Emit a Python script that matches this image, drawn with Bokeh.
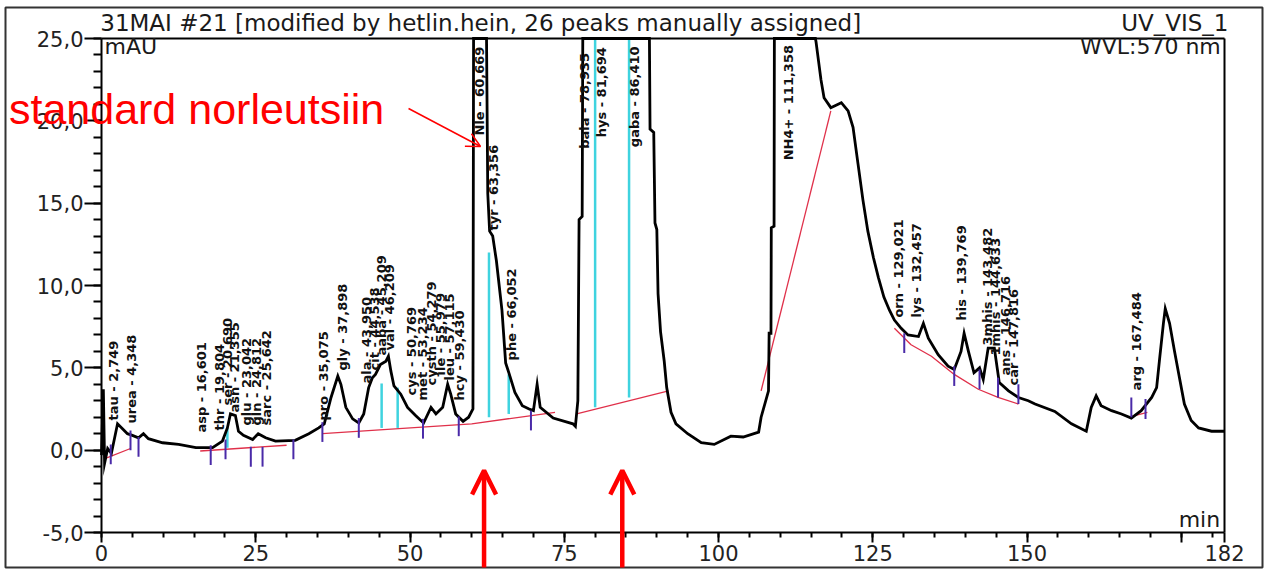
import math
from bokeh.plotting import figure
from bokeh.models import (Range1d, FixedTicker, CustomJSTickFormatter, Label, Arrow,
                          OpenHead, ColumnDataSource, LinearAxis)
from bokeh.embed import file_html
from bokeh.resources import INLINE
from bokeh.core.properties import value

# ---------------- data ----------------
# the detector signal leaves the 25 mAU scale on the big peaks; those points are
# recorded at the top of the scale (25.0) where the trace is clipped in the picture
time_min = [0.0, 0.3, 0.5, 1.0, 1.6, 2.6, 3.4, 4.2, 5.0, 6.0, 6.8, 7.6, 9.9, 12.5, 15.3,
            18.0, 19.6, 20.4, 20.9, 21.7, 22.2, 23.0, 24.5, 25.4, 26.6, 28.2, 31.4, 33.6,
            35.2, 36.1, 37.2, 38.3, 38.8, 39.6, 40.7, 41.7, 42.5, 43.3, 43.9, 44.4, 45.2,
            46.1, 46.5, 46.9, 47.4, 48.5, 49.6, 50.9, 52.2, 53.4, 54.2, 55.3, 56.1, 56.6,
            57.4, 58.6, 59.5, 60.2, 60.3, 62.4, 62.6, 62.9, 63.4, 64.0, 64.9, 65.5, 66.1,
            67.0, 68.2, 69.3, 70.0, 70.6, 71.1, 73.2, 76.4, 76.8, 77.2, 77.4, 77.9, 78.0,
            88.8, 88.9, 89.5, 89.7, 90.0, 90.2, 90.6, 91.2, 91.6, 92.3, 93.1, 95.0, 97.2,
            99.3, 102.0, 104.0, 106.5, 106.9, 108.1, 108.2, 108.5, 108.55, 109.0, 109.05,
            115.7, 115.8, 116.6, 117.1, 118.2, 119.9, 121.0, 121.8, 122.6, 123.4, 124.2,
            125.1, 125.9, 126.8, 127.7, 128.5, 129.6, 130.7, 132.4, 133.2, 134.0, 135.6,
            137.2, 138.2, 139.3, 139.8, 140.5, 141.4, 142.3, 142.9, 143.7, 144.7, 145.5,
            147.0, 148.6, 150.2, 151.3, 154.5, 157.2, 159.6, 160.4, 161.2, 162.0, 163.7,
            165.3, 166.9, 168.5, 170.2, 171.0, 171.5, 172.1, 172.4, 173.1, 173.9, 174.7,
            175.5, 176.6, 177.8, 179.9, 182.0]
signal_mau = [-0.3, 3.7, -0.8, 0.1, -0.2, 1.6, 1.3, 1.0, 0.9, 0.75, 1.0, 0.7, 0.45, 0.35, 0.15,
              0.15, 0.55, 1.35, 2.2, 2.1, 1.15, 0.9, 0.65, 1.0, 0.75, 0.55, 0.6, 1.0,
              1.35, 1.6, 3.2, 4.5, 4.0, 2.6, 1.9, 1.65, 2.2, 3.8, 4.4, 4.6, 5.2,
              5.4, 5.7, 4.8, 3.9, 3.4, 2.6, 2.1, 1.65, 2.6, 2.2, 2.6, 4.0, 3.4,
              2.2, 1.75, 2.0, 2.5, 25.0, 25.0, 15.6, 13.3, 13.0, 11.5, 8.5, 5.3, 4.6,
              3.5, 2.7, 2.5, 2.4, 4.0, 2.6, 1.95, 1.6, 1.45, 3.0, 14.0, 14.2, 25.0,
              25.0, 19.5, 19.3, 13.8, 13.4, 9.5, 7.2, 5.4, 3.8, 2.3, 1.6, 1.0, 0.45,
              0.35, 0.85, 0.8, 1.1, 2.0, 3.6, 7.1, 7.1, 13.5, 13.6, 25.0,
              25.0, 24.8, 22.5, 21.4, 20.8, 21.1, 20.6, 19.6, 17.4, 15.2, 13.3,
              11.7, 10.5, 9.3, 8.5, 7.9, 7.4, 7.0, 6.9, 7.7, 6.8, 5.8,
              5.1, 4.9, 6.0, 7.1, 6.0, 4.7, 5.0, 4.3, 6.2, 6.2, 4.1,
              3.6, 3.2, 3.0, 2.8, 2.35, 1.6, 1.15, 2.6, 3.3, 2.7, 2.4,
              2.2, 1.95, 2.4, 3.2, 3.8, 5.6, 7.7, 8.6, 7.7, 6.0, 4.4,
              2.8, 1.8, 1.35, 1.15, 1.15]

# integration baselines (red)
baseline_t = [[0.65, 4.7], [16.0, 30.0], [35.8, 60.0, 73.5], [77.0, 91.9],
              [106.9, 118.2],
              [128.5, 131.2, 134.5, 138.2, 142.1, 145.3, 148.6], [166.5, 169.5]]
baseline_v = [[-0.5, 0.1], [-0.05, 0.3], [1.0, 1.6, 2.3], [2.2, 3.6],
              [3.6, 20.6],
              [7.4, 6.4, 5.7, 4.6, 3.7, 3.2, 2.8], [2.0, 2.3]]

# peak drop lines (cyan)
drop_t = [20.4, 45.4, 48.0, 62.8, 66.0, 80.0, 85.5]
drop_lo = [0.15, 1.35, 1.35, 2.0, 2.2, 2.6, 3.2]
drop_hi = [1.35, 4.05, 3.8, 12.0, 4.6, 25.0, 25.0]

# peak delimiters (purple ticks)
delim_t = [1.5, 4.7, 6.0, 17.7, 20.1, 24.2, 26.1, 31.1, 35.8, 41.7, 52.1, 57.9, 69.6,
           130.1, 138.2, 142.3, 145.3, 148.6, 166.9, 169.2]
delim_v = [-0.15, 0.7, 0.3, -0.2, 0.15, -0.3, -0.3, 0.15, 1.2, 1.45, 1.4, 1.55, 1.9,
           6.6, 4.6, 4.4, 3.9, 3.5, 2.7, 2.6]

# peak labels
peak_names = ["tau - 2,749", "urea - 4,348", "asp - 16,601", "thr - 19,804", "ser - 20,690",
              "asn - 21,355", "glu - 23,042", "gln - 24,812", "sarc - 25,642",
              "pro - 35,075", "gly - 37,898", "ala - 43,950", "cit - 44,538",
              "aaba - 45,209", "val - 46,209", "cys - 50,769", "met - 53,234",
              "cysth - 54,279", "ile - 55,979", "leu - 57,115", "hcy - 59,430",
              "Nle - 60,669", "tyr - 63,356", "phe - 66,052", "bala - 78,935",
              "hys - 81,694", "gaba - 86,410", "NH4+ - 111,358", "orn - 129,021",
              "lys - 132,457", "his - 139,769", "3mhis - 143,482", "1mhis - 144,633",
              "ans - 146,716", "car - 147,816", "arg - 167,484"]
label_t = [1.95, 4.87, 16.22, 19.14, 20.44, 21.57, 23.52, 25.14, 26.76,
           36.01, 39.09, 42.98, 44.28, 45.42, 46.72, 50.28, 52.07,
           53.53, 54.99, 56.45, 58.07, 61.31, 63.58, 66.5, 78.34,
           81.1, 86.45, 111.27, 129.12, 132.04, 139.33, 143.55, 144.85,
           146.47, 147.77, 167.72]
label_v = [1.8, 1.62, 1.07, 1.2, 2.71, 2.28, 1.5, 1.5, 1.5,
           1.8, 4.84, 4.05, 4.84, 5.75, 6.05, 3.32, 3.02,
           3.93, 4.54, 4.23, 3.02, 19.11, 13.34, 5.45, 18.3,
           19.0, 18.4, 17.6, 8.05, 8.05, 7.88, 6.36, 5.75,
           4.54, 3.93, 3.63]

x_major = [0, 25, 50, 75, 100, 125, 150, 175, 182]
x_minor = list(range(0, 183, 5))
y_major = [-5, 0, 5, 10, 15, 20, 25]
y_minor = list(range(-5, 26))

FONT = "DejaVu Sans"

# ---------------- figure ----------------
# the frame is the outer box of the picture; the chart axes sit inside it
p = figure(width=1269, height=577, output_backend="svg", toolbar_location=None,
           x_range=Range1d(-15.558, 188.159), y_range=Range1d(-7.1255, 26.8826),
           min_border_left=5, min_border_right=7, min_border_top=7, min_border_bottom=10)
p.background_fill_color = "white"
p.border_fill_color = "white"
p.outline_line_color = "#333333"
p.outline_line_width = 2
p.xgrid.visible = False
p.ygrid.visible = False

p.xaxis.ticker = FixedTicker(ticks=x_major, minor_ticks=x_minor)
p.xaxis.formatter = CustomJSTickFormatter(code="return tick == 175 ? '' : tick.toFixed(0);")
p.yaxis.ticker = FixedTicker(ticks=y_major, minor_ticks=y_minor)
p.yaxis.formatter = CustomJSTickFormatter(code="return tick.toFixed(1).replace('.', ',');")
p.xaxis.fixed_location = -5
p.xaxis.bounds = (0, 182)
p.yaxis.fixed_location = 0
p.yaxis.bounds = (-5, 25)
for ax in (p.xaxis, p.yaxis):
    ax.axis_line_width = 2
    ax.axis_line_color = "black"
    ax.major_tick_line_color = "black"
    ax.minor_tick_line_color = "black"
    ax.major_tick_line_width = 2
    ax.minor_tick_line_width = 2
    ax.major_tick_in = 0
    ax.minor_tick_in = 0
    ax.major_label_text_font = FONT
    ax.major_label_text_font_size = "21px"
    ax.major_label_text_color = "#222222"
p.xaxis.major_tick_out = 10
p.xaxis.minor_tick_out = 5
p.xaxis.major_label_standoff = 2
p.yaxis.major_tick_out = 17
p.yaxis.minor_tick_out = 8
p.yaxis.major_label_standoff = 1

# top and right edges of the chart box
top_axis = LinearAxis(fixed_location=25, bounds=(0, 182), ticker=FixedTicker(ticks=[]),
                      axis_line_width=2, axis_line_color="black")
right_axis = LinearAxis(fixed_location=182, bounds=(-5, 25), ticker=FixedTicker(ticks=[]),
                        axis_line_width=2, axis_line_color="black")
p.add_layout(top_axis, "above")
p.add_layout(right_axis, "right")

# baselines
p.multi_line(xs=baseline_t, ys=baseline_v, line_color="#e0304a", line_width=1.3)

# drop lines
p.segment(x0=drop_t, y0=drop_lo, x1=drop_t, y1=drop_hi, line_color="#3fd3df", line_width=2.5)

# chromatogram trace
p.line(time_min, signal_mau, line_color="black", line_width=2.8, line_join="miter")

# delimiters
d_lo = [v - 0.7 for v in delim_v]
d_hi = [v + 0.5 for v in delim_v]
p.segment(x0=delim_t, y0=d_lo, x1=delim_t, y1=d_hi, line_color="#4a2aa8", line_width=2)

# peak labels
src = ColumnDataSource(dict(x=label_t, y=label_v, text=peak_names))
p.text(x="x", y="y", text="text", source=src, angle=math.pi / 2,
       text_align="left", text_baseline="middle",
       text_font=value(FONT), text_font_size="13px", text_font_style="bold",
       text_color="#111111")

# ---------------- texts around the chart ----------------
def add_label(x, y, text, align="left", size="22px", color="#1a1a1a"):
    p.add_layout(Label(x=x, y=y, text=text, text_align=align, text_baseline="middle",
                       text_font=FONT, text_font_size=size, text_color=color))

add_label(-0.2, 25.97, "31MAI #21 [modified by hetlin.hein, 26 peaks manually assigned]",
          size="23px")
add_label(182.65, 25.97, "UV_VIS_1", align="right", size="23px")
add_label(181.4, 24.5, "WVL:570 nm", align="right")
add_label(0.5, 24.5, "mAU")
add_label(181.3, -4.22, "min", align="right")

# red annotation
p.add_layout(Label(x=-15.0, y=20.69, text="standard norleutsiin", text_align="left",
                   text_baseline="middle", text_font="Liberation Sans",
                   text_font_size="43px", text_color="red"))
p.add_layout(Arrow(x_start=49.76, y_start=20.75, x_end=61.43, y_end=18.44,
                   line_color="red", line_width=1.5,
                   end=OpenHead(size=14, line_color="red", line_width=1.5)))
for xa in (62.0, 84.4):
    p.add_layout(Arrow(x_start=xa, y_start=-7.2, x_end=xa, y_end=-1.24,
                       line_color="red", line_width=4.5,
                       end=OpenHead(size=24, line_color="red", line_width=4.5)))

open("out.html", "w").write(file_html(p, INLINE))
